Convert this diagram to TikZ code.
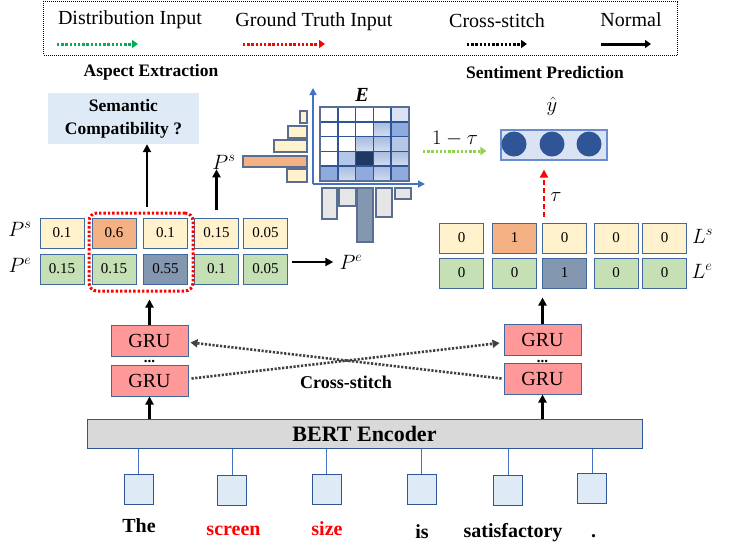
\documentclass[tikz,border=0pt]{standalone}
\usepackage{fontspec}
\setmainfont{Liberation Serif}
\usetikzlibrary{arrows.meta}
\definecolor{cyel}{HTML}{FFF2CC}
\definecolor{cora}{HTML}{F4B183}
\definecolor{cgrn}{HTML}{C5E0B4}
\definecolor{cbg}{HTML}{8497B0}
\definecolor{cbord}{HTML}{41689C}
\definecolor{clb}{HTML}{DEEBF7}
\definecolor{cpink}{HTML}{FF9999}
\definecolor{cnavy}{HTML}{203864}
\definecolor{cmb}{HTML}{8FAADC}
\definecolor{cltwo}{HTML}{B4C7E7}
\definecolor{clthree}{HTML}{DAE3F3}
\definecolor{cdb}{HTML}{2F5597}
\definecolor{caxis}{HTML}{4472C4}
\definecolor{cgray}{HTML}{E7E6E6}
\definecolor{cbert}{HTML}{D9D9D9}
\definecolor{lgreen}{HTML}{92D050}
\definecolor{dgreen}{HTML}{00B050}
\definecolor{cdark}{HTML}{404040}
\definecolor{cbarb}{HTML}{5A6E92}
\begin{document}
\begin{tikzpicture}[x=1pt,y=-1pt,
 every node/.style={inner sep=0pt},
 txt/.style={font=\fontsize{20}{24}\selectfont},
 mtxt/.style={font=\fontsize{21}{25}\selectfont},
 btxt/.style={font=\fontsize{17.5}{21}\selectfont\bfseries},
 cell/.style={draw=cbord, line width=1pt, minimum width=44pt, minimum height=30pt, font=\fontsize{15}{18}\selectfont},
 cy/.style={cell, fill=cyel}, co/.style={cell, fill=cora},
 cg/.style={cell, fill=cgrn}, cb/.style={cell, fill=cbg},
 gru/.style={draw=cbord, line width=1pt, fill=cpink, minimum width=77pt, minimum height=31pt, font=\fontsize{20}{24}\selectfont},
 wbox/.style={draw=cdb, line width=1pt, fill=clb, minimum width=29pt, minimum height=30pt},
 word/.style={anchor=base, font=\fontsize{20}{24}\selectfont\bfseries},
 norm/.style={line width=2.5pt, -{Triangle[length=8pt,width=8pt]}},
 xstitch/.style={cdark, line width=2.6pt, dash pattern=on 2.2pt off 1.6pt, -{Triangle[length=7pt,width=8pt]}},
 dotarr/.style={line width=3pt, dash pattern=on 2.4pt off 1.8pt, -{Triangle[length=6pt,width=8pt]}},
 ekW/.style={fill=white}, ekA/.style={fill=clthree}, ekB/.style={fill=cltwo},
 ekC/.style={fill=cmb}, ekD/.style={fill=cnavy},
 ekG/.style={top color=cltwo!90!cdb, middle color=white, bottom color=cltwo!60},
 hbar/.style={draw=cbarb, line width=1.2pt},
 vbar/.style={draw=cbarb, line width=1.2pt}
]
\useasboundingbox (0,0) rectangle (733,558);

% ---------- legend ----------
\node[draw=black, line width=0.8pt, dash pattern=on 1pt off 1pt, minimum width=634pt, minimum height=54pt] (leg) at (360.75,28) {};
\node[txt] (lg1) at (130,20) {Distribution Input};
\node[txt] (lg2) at (314,22) {Ground Truth Input};
\node[txt] (lg3) at (497,21) {Cross-stitch};
\node[txt] (lg4) at (631,20) {Normal};
\coordinate (la1) at (57,44); \coordinate (lb1) at (138,44);
\coordinate (la2) at (243,44); \coordinate (lb2) at (325,44);
\coordinate (la3) at (467,44); \coordinate (lb3) at (527,44);
\coordinate (la4) at (601,44); \coordinate (lb4) at (651,44);
\draw[dotarr, dgreen] (la1) -- (lb1);
\draw[dotarr, red] (la2) -- (lb2);
\draw[dotarr, black] (la3) -- (lb3);
\draw[line width=3pt, -{Triangle[length=6pt,width=8pt]}] (la4) -- (lb4);

\node[btxt] (ae) at (151,72) {Aspect Extraction};
\node[btxt] (sp) at (545,73) {Sentiment Prediction};

% ---------- left: aspect extraction ----------
\node[fill=clb, minimum width=151pt, minimum height=51pt] (sem) at (123.5,118.5) {};
\node[font=\fontsize{17.5}{23}\selectfont\bfseries, align=center] (semt) at (123.5,119) {Semantic\\Compatibility ?};

\node[cy] (ps1) at (62,233) {0.1};
\node[co] (ps2) at (114,233) {0.6};
\node[cy] (ps3) at (165.5,233) {0.1};
\node[cy] (ps4) at (216.5,233) {0.15};
\node[cy] (ps5) at (265.5,233) {0.05};
\node[cg] (pe1) at (62,269) {0.15};
\node[cg] (pe2) at (114,269) {0.15};
\node[cb] (pe3) at (165.5,269) {0.55};
\node[cg] (pe4) at (216.5,269) {0.1};
\node[cg] (pe5) at (265.5,269) {0.05};
\node[mtxt] (psl) at (20,229) {$P^s$};
\node[mtxt] (pel) at (20,265) {$P^e$};

\node[draw=red, line width=3pt, dash pattern=on 2.4pt off 2pt, rounded corners=8pt, minimum width=104pt, minimum height=78pt] (rbox) at (141,252) {};
\draw[norm] ([xshift=6pt,yshift=5pt]rbox.north) -- ([xshift=6pt]rbox.north |- sem.south);

\node[mtxt] (psu) at (224,162) {$P^s$};
\draw[norm] ([yshift=8pt]ps4.north) -- (ps4.north |- psu.south);
\node[mtxt] (peu) at (351,262) {$P^e$};
\draw[norm] ([xshift=4pt,yshift=7pt]pe5.east) -- ([xshift=-6pt]peu.west |- 0,262);

% ---------- E matrix ----------
\node[font=\fontsize{20}{24}\selectfont\bfseries\itshape] (elab) at (362,95) {E};
\foreach \r/\c/\k in {0/0/W,0/1/W,0/2/W,0/3/W,0/4/A,
                      1/0/W,1/1/W,1/2/W,1/3/G,1/4/C,
                      2/0/W,2/1/W,2/2/G,2/3/G,2/4/B,
                      3/0/W,3/1/B,3/2/D,3/3/G,3/4/G,
                      4/0/C,4/1/G,4/2/C,4/3/G,4/4/C}
  \path[ek\k] (320+\c*17.8, 107+\r*14.8) rectangle (320+\c*17.8+17.8, 107+\r*14.8+14.8);
\foreach \i in {1,2,3,4} {
  \draw[cdb, line width=1.6pt] (320+\i*17.8,107) -- (320+\i*17.8,181);
  \draw[cdb, line width=1.6pt] (320,107+\i*14.8) -- (409,107+\i*14.8);
}
\draw[cbarb, line width=1.8pt] (320,107) rectangle (409,181);

\coordinate (org) at (313,184);
\coordinate (ytop) at (313,88);
\coordinate (xend) at (425,184);
\draw[caxis, line width=1.6pt, -{Triangle[length=7pt,width=7pt]}] (org) -- (ytop);
\draw[caxis, line width=1.6pt, -{Triangle[length=7pt,width=7pt]}] (org) -- (xend);

\filldraw[hbar, fill=cyel] (300,111) rectangle (307,123);
\filldraw[hbar, fill=cyel] (288,126) rectangle (307,138);
\filldraw[hbar, fill=cyel] (274,140) rectangle (307,152);
\filldraw[hbar, fill=cora] (243,156) rectangle (307,167);
\filldraw[hbar, fill=cyel] (287,169) rectangle (307,182);

\filldraw[vbar, fill=cgray] (322,188) rectangle (337,219);
\filldraw[vbar, fill=cgray] (339,188) rectangle (356,206);
\filldraw[vbar, fill=cbg] (357,188) rectangle (373,242);
\filldraw[vbar, fill=cgray] (376,188) rectangle (392,217);
\filldraw[vbar, fill=cgray] (395,188) rectangle (411,199);

% ---------- right: sentiment ----------
\node[draw=caxis!80, line width=1.2pt, fill=clthree, minimum width=106pt, minimum height=30pt] (yhat) at (554,145) {};
\node[circle, fill=cdb, minimum size=25pt] (c1) at (514,144) {};
\node[circle, fill=cdb, minimum size=25pt] (c2) at (552,144) {};
\node[circle, fill=cdb, minimum size=25pt] (c3) at (589,144) {};
\node[mtxt] (yl) at (552,106) {$\hat{y}$};

\coordinate (gs) at (423,151);
\draw[lgreen, line width=3pt, dash pattern=on 2.4pt off 1.8pt, -{Triangle[length=6pt,width=8pt]}] (gs) -- ([xshift=-14pt,yshift=-6pt]yhat.west);
\node[mtxt] (omt) at (455,139) {$1-\tau$};

\node[cy] (ls1) at (461.5,238) {0};
\node[co] (ls2) at (514.5,238) {1};
\node[cy] (ls3) at (564.5,238) {0};
\node[cy] (ls4) at (616,238) {0};
\node[cy] (ls5) at (664.5,238) {0};
\node[cg] (le1) at (461.5,273) {0};
\node[cg] (le2) at (514.5,273) {0};
\node[cb] (le3) at (564.5,273) {1};
\node[cg] (le4) at (616,273) {0};
\node[cg] (le5) at (664.5,273) {0};
\node[mtxt] (lsl) at (702.5,236) {$L^s$};
\node[mtxt] (lel) at (702,271) {$L^e$};

\draw[red, line width=2.5pt, dash pattern=on 5pt off 3pt, -{Triangle[length=8pt,width=8pt]}] ([xshift=-20.5pt,yshift=6pt]ls3.north) -- ([xshift=-20.5pt,yshift=-9pt]ls3.north |- yhat.south);
\node[mtxt] (taul) at (556,197) {$\tau$};

% ---------- GRUs and encoder ----------
\node[gru] (gl1) at (149.5,340.5) {GRU};
\node[gru] (gl2) at (149.5,380.5) {GRU};
\node[gru] (gr1) at (542.5,340) {GRU};
\node[gru] (gr2) at (542.5,378.5) {GRU};
\node[anchor=base, font=\fontsize{15}{16}\selectfont\bfseries] (dl) at (149.5,362) {...};
\node[anchor=base, font=\fontsize{15}{16}\selectfont\bfseries] (dr) at (542.5,362) {...};

\node[draw=cdb, line width=1pt, fill=cbert, minimum width=555pt, minimum height=29pt, font=\fontsize{22}{26}\selectfont\bfseries] (bert) at (364.5,433.5) {BERT Encoder};

\draw[norm] (bert.north -| gl2) -- (gl2.south);
\draw[norm] (bert.north -| gr2) -- (gr2.south);
\draw[norm] (gl1.north) -- ([yshift=-7pt]gl1.north |- rbox.south);
\draw[norm] (gr1.north) -- ([yshift=-9pt]gr1.north |- le3.south);

\draw[xstitch] ([xshift=3pt,yshift=2pt]gl2.east) -- ([xshift=-4pt,yshift=-3pt]gr1.west);
\draw[xstitch] ([xshift=-2pt,yshift=0pt]gr2.west) -- ([xshift=2pt,yshift=-2pt]gl1.east);
\node[font=\fontsize{18}{22}\selectfont\bfseries] (xs) at (346,382) {Cross-stitch};

% ---------- words ----------
\node[wbox] (w1) at (138.5,489) {};
\node[wbox] (w2) at (232,490.5) {};
\node[wbox] (w3) at (326.5,489) {};
\node[wbox] (w4) at (421.5,489) {};
\node[wbox] (w5) at (508,490.5) {};
\node[wbox] (w6) at (592,488) {};
\foreach \w in {w1,w2,w3,w4,w5,w6}
  \draw[caxis, line width=1pt] (\w.north) -- (\w.north |- bert.south);

\node[word] (t1) at (139,532) {The};
\node[word, text=red] (t2) at (233.5,535) {screen};
\node[word, text=red] (t3) at (327,535.5) {size};
\node[word] (t4) at (422,538) {is};
\node[word] (t5) at (513,537) {satisfactory};
\node[word] (t6) at (593.5,537) {.};
\end{tikzpicture}
\end{document}
